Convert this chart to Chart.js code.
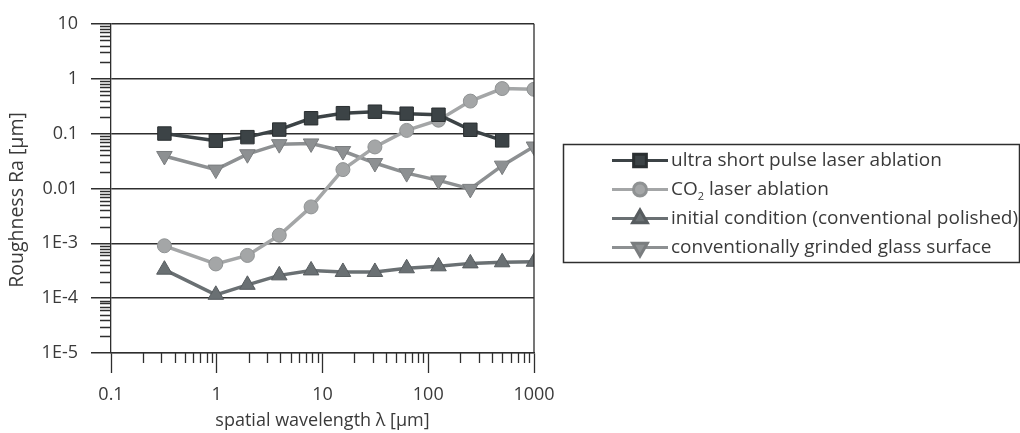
<!DOCTYPE html>
<html>
<head>
<meta charset="utf-8">
<script src="https://cdn.jsdelivr.net/npm/chart.js@4.4.1/dist/chart.umd.min.js"></script>
<style>
  html, body { margin: 0; padding: 0; background: #fff; }
  #wrap { width: 1020px; height: 433px; }
</style>
</head>
<body>
<div id="wrap"><canvas id="roughChart" width="1020" height="433"></canvas></div>
<script>
// Roughness Ra vs spatial wavelength (log-log)

// spatial wavelength [µm]
const wavelengths = [0.32, 0.98, 1.95, 3.9, 7.8, 15.6, 31.3, 62.5, 125, 250, 500, 1000];

// Ra [µm] per series
const ultraShortPulse = [0.10, 0.074, 0.086, 0.118, 0.19, 0.235, 0.25, 0.23, 0.22, 0.117, 0.075];
const co2Ablation = [9.0e-4, 4.2e-4, 6.0e-4, 1.4e-3, 4.6e-3, 0.022, 0.057, 0.114, 0.175, 0.39, 0.66, 0.64];
const initialPolished = [3.3e-4, 1.15e-4, 1.75e-4, 2.6e-4, 3.2e-4, 3.0e-4, 3.0e-4, 3.5e-4, 3.8e-4, 4.3e-4, 4.5e-4, 4.6e-4];
const grindedSurface = [0.039, 0.022, 0.042, 0.064, 0.066, 0.048, 0.029, 0.019, 0.014, 0.0098, 0.026, 0.058];

const seriesLabels = [
    'ultra short pulse laser ablation',
    'CO₂ laser ablation',
    'initial condition (conventional polished)',
    'conventionally grinded glass surface'
];

// decade ticks
const xDecades = [0.1, 1, 10, 100, 1000];
const yDecades = [1e-5, 1e-4, 1e-3, 0.01, 0.1, 1, 10];

const TEXT_COLOR = '#3a3a3a';
const AXIS_COLOR = '#2e2e2e';
const FONT = '"Open Sans", "DejaVu Sans", sans-serif';
const LEGEND_SIZE = 19;

function toPoints(values) {
    return values.map((v, i) => ({ x: wavelengths[i], y: v }));
}

function yLabel(v) {
    const e = Math.round(Math.log10(v));
    if (e >= -2) return String(Number(v.toPrecision(1)));
    return '1E' + e;
}

// minor ticks, border, axis titles and the boxed legend
const axisExtras = {
    id: 'axisExtras',
    afterDraw(chart) {
        const { ctx, chartArea: a, scales } = chart;
        const xs = scales.x, ys = scales.y;
        ctx.save();
        ctx.strokeStyle = AXIS_COLOR;
        ctx.lineWidth = 1.3;
        ctx.beginPath();
        for (let e = -1; e < 3; e++) {
            for (let m = 2; m <= 9; m++) {
                const px = Math.round(xs.getPixelForValue(m * Math.pow(10, e))) + 0.5;
                ctx.moveTo(px, a.bottom);
                ctx.lineTo(px, a.bottom + 10);
            }
        }
        for (let e = -5; e < 1; e++) {
            for (let m = 2; m <= 9; m++) {
                const py = Math.round(ys.getPixelForValue(m * Math.pow(10, e))) + 0.5;
                ctx.moveTo(a.left - 11, py);
                ctx.lineTo(a.left, py);
            }
        }
        // right border of the plot
        ctx.moveTo(a.right, a.top);
        ctx.lineTo(a.right, a.bottom);
        ctx.stroke();

        // axis titles
        ctx.fillStyle = TEXT_COLOR;
        ctx.textAlign = 'center';
        ctx.textBaseline = 'middle';
        ctx.font = '18px ' + FONT;
        ctx.fillText('spatial wavelength λ [µm]', (a.left + a.right) / 2, 421);
        ctx.save();
        ctx.translate(17, 200);
        ctx.rotate(-Math.PI / 2);
        ctx.font = '19.5px ' + FONT;
        ctx.fillText('Roughness Ra [µm]', 0, 0);
        ctx.restore();

        // legend box
        const box = { left: 563, top: 144, right: 1019, bottom: 262 };
        ctx.lineWidth = 1.5;
        ctx.strokeRect(box.left + 0.5, box.top + 0.5, box.right - box.left, box.bottom - box.top);

        ctx.textAlign = 'left';
        ctx.font = LEGEND_SIZE + 'px ' + FONT;
        chart.data.datasets.forEach((ds, i) => {
            const cy = 160.5 + i * 29;
            ctx.strokeStyle = ds.borderColor;
            ctx.lineWidth = 3;
            ctx.beginPath();
            ctx.moveTo(612, cy);
            ctx.lineTo(668, cy);
            ctx.stroke();
            ctx.fillStyle = ds.backgroundColor;
            ctx.strokeStyle = ds.pointBorderColor;
            Chart.helpers.drawPoint(ctx, {
                pointStyle: ds.pointStyle,
                rotation: ds.pointRotation || 0,
                radius: ds.pointRadius - 0.5,
                borderWidth: 1
            }, 640, cy);

            ctx.fillStyle = TEXT_COLOR;
            const parts = ds.label.split('₂');
            if (parts.length > 1) {
                ctx.fillText(parts[0], 671, cy);
                let x = 671 + ctx.measureText(parts[0]).width;
                ctx.font = '11px ' + FONT;
                ctx.fillText('2', x, cy + 7);
                x += ctx.measureText('2').width;
                ctx.font = LEGEND_SIZE + 'px ' + FONT;
                ctx.fillText(parts[1], x, cy);
            } else {
                ctx.fillText(ds.label, 671, cy);
            }
        });
        ctx.restore();
    }
};

function makeDataset(label, values, color, edge, style, radius, rotation) {
    return {
        label: label,
        data: toPoints(values),
        borderColor: color,
        backgroundColor: color,
        pointBackgroundColor: color,
        pointBorderColor: edge,
        pointBorderWidth: 1,
        borderWidth: 3.5,
        pointStyle: style,
        pointRadius: radius,
        pointRotation: rotation,
        tension: 0
    };
}

const datasets = [
    makeDataset(seriesLabels[0], ultraShortPulse, '#3c4346', '#2a2f31', 'rect', 9.5, 0),
    makeDataset(seriesLabels[1], co2Ablation, '#a4a6a7', '#8f9293', 'circle', 7, 0),
    makeDataset(seriesLabels[2], initialPolished, '#6a7073', '#575c5f', 'triangle', 9, 0),
    makeDataset(seriesLabels[3], grindedSurface, '#8d9092', '#7a7d7f', 'triangle', 9, 180)
];

const config = {
    type: 'line',
    data: { datasets: datasets },
    options: {
        responsive: false,
        animation: false,
        devicePixelRatio: 1,
        layout: { padding: { top: 22, right: 486, left: 0, bottom: 0 } },
        plugins: {
            legend: { display: false },
            tooltip: { enabled: false }
        },
        scales: {
            x: {
                type: 'logarithmic',
                min: 0.1,
                max: 1000,
                afterBuildTicks: (s) => { s.ticks = xDecades.map(v => ({ value: v })); },
                afterFit: (s) => { s.height = 80; },
                ticks: {
                    autoSkip: false,
                    maxRotation: 0,
                    padding: 11,
                    color: TEXT_COLOR,
                    font: { family: FONT, size: 18 },
                    callback: (v) => String(v)
                },
                grid: {
                    drawOnChartArea: false,
                    tickLength: 20,
                    tickColor: AXIS_COLOR,
                    tickWidth: 1.3
                },
                border: { display: true, color: AXIS_COLOR, width: 1.3 }
            },
            y: {
                type: 'logarithmic',
                min: 1e-5,
                max: 10,
                afterBuildTicks: (s) => { s.ticks = yDecades.map(v => ({ value: v })); },
                afterFit: (s) => { s.width = 111; },
                ticks: {
                    autoSkip: false,
                    padding: 13,
                    color: TEXT_COLOR,
                    font: { family: FONT, size: 18 },
                    callback: (v) => yLabel(v)
                },
                grid: {
                    color: AXIS_COLOR,
                    lineWidth: 1.5,
                    tickLength: 20,
                    tickColor: AXIS_COLOR,
                    tickWidth: 1.5
                },
                border: { display: true, color: AXIS_COLOR, width: 1.3 }
            }
        }
    },
    plugins: [axisExtras]
};

document.addEventListener('DOMContentLoaded', () => {
    const canvas = document.getElementById('roughChart');
    new Chart(canvas, config);
});
</script>
</body>
</html>
